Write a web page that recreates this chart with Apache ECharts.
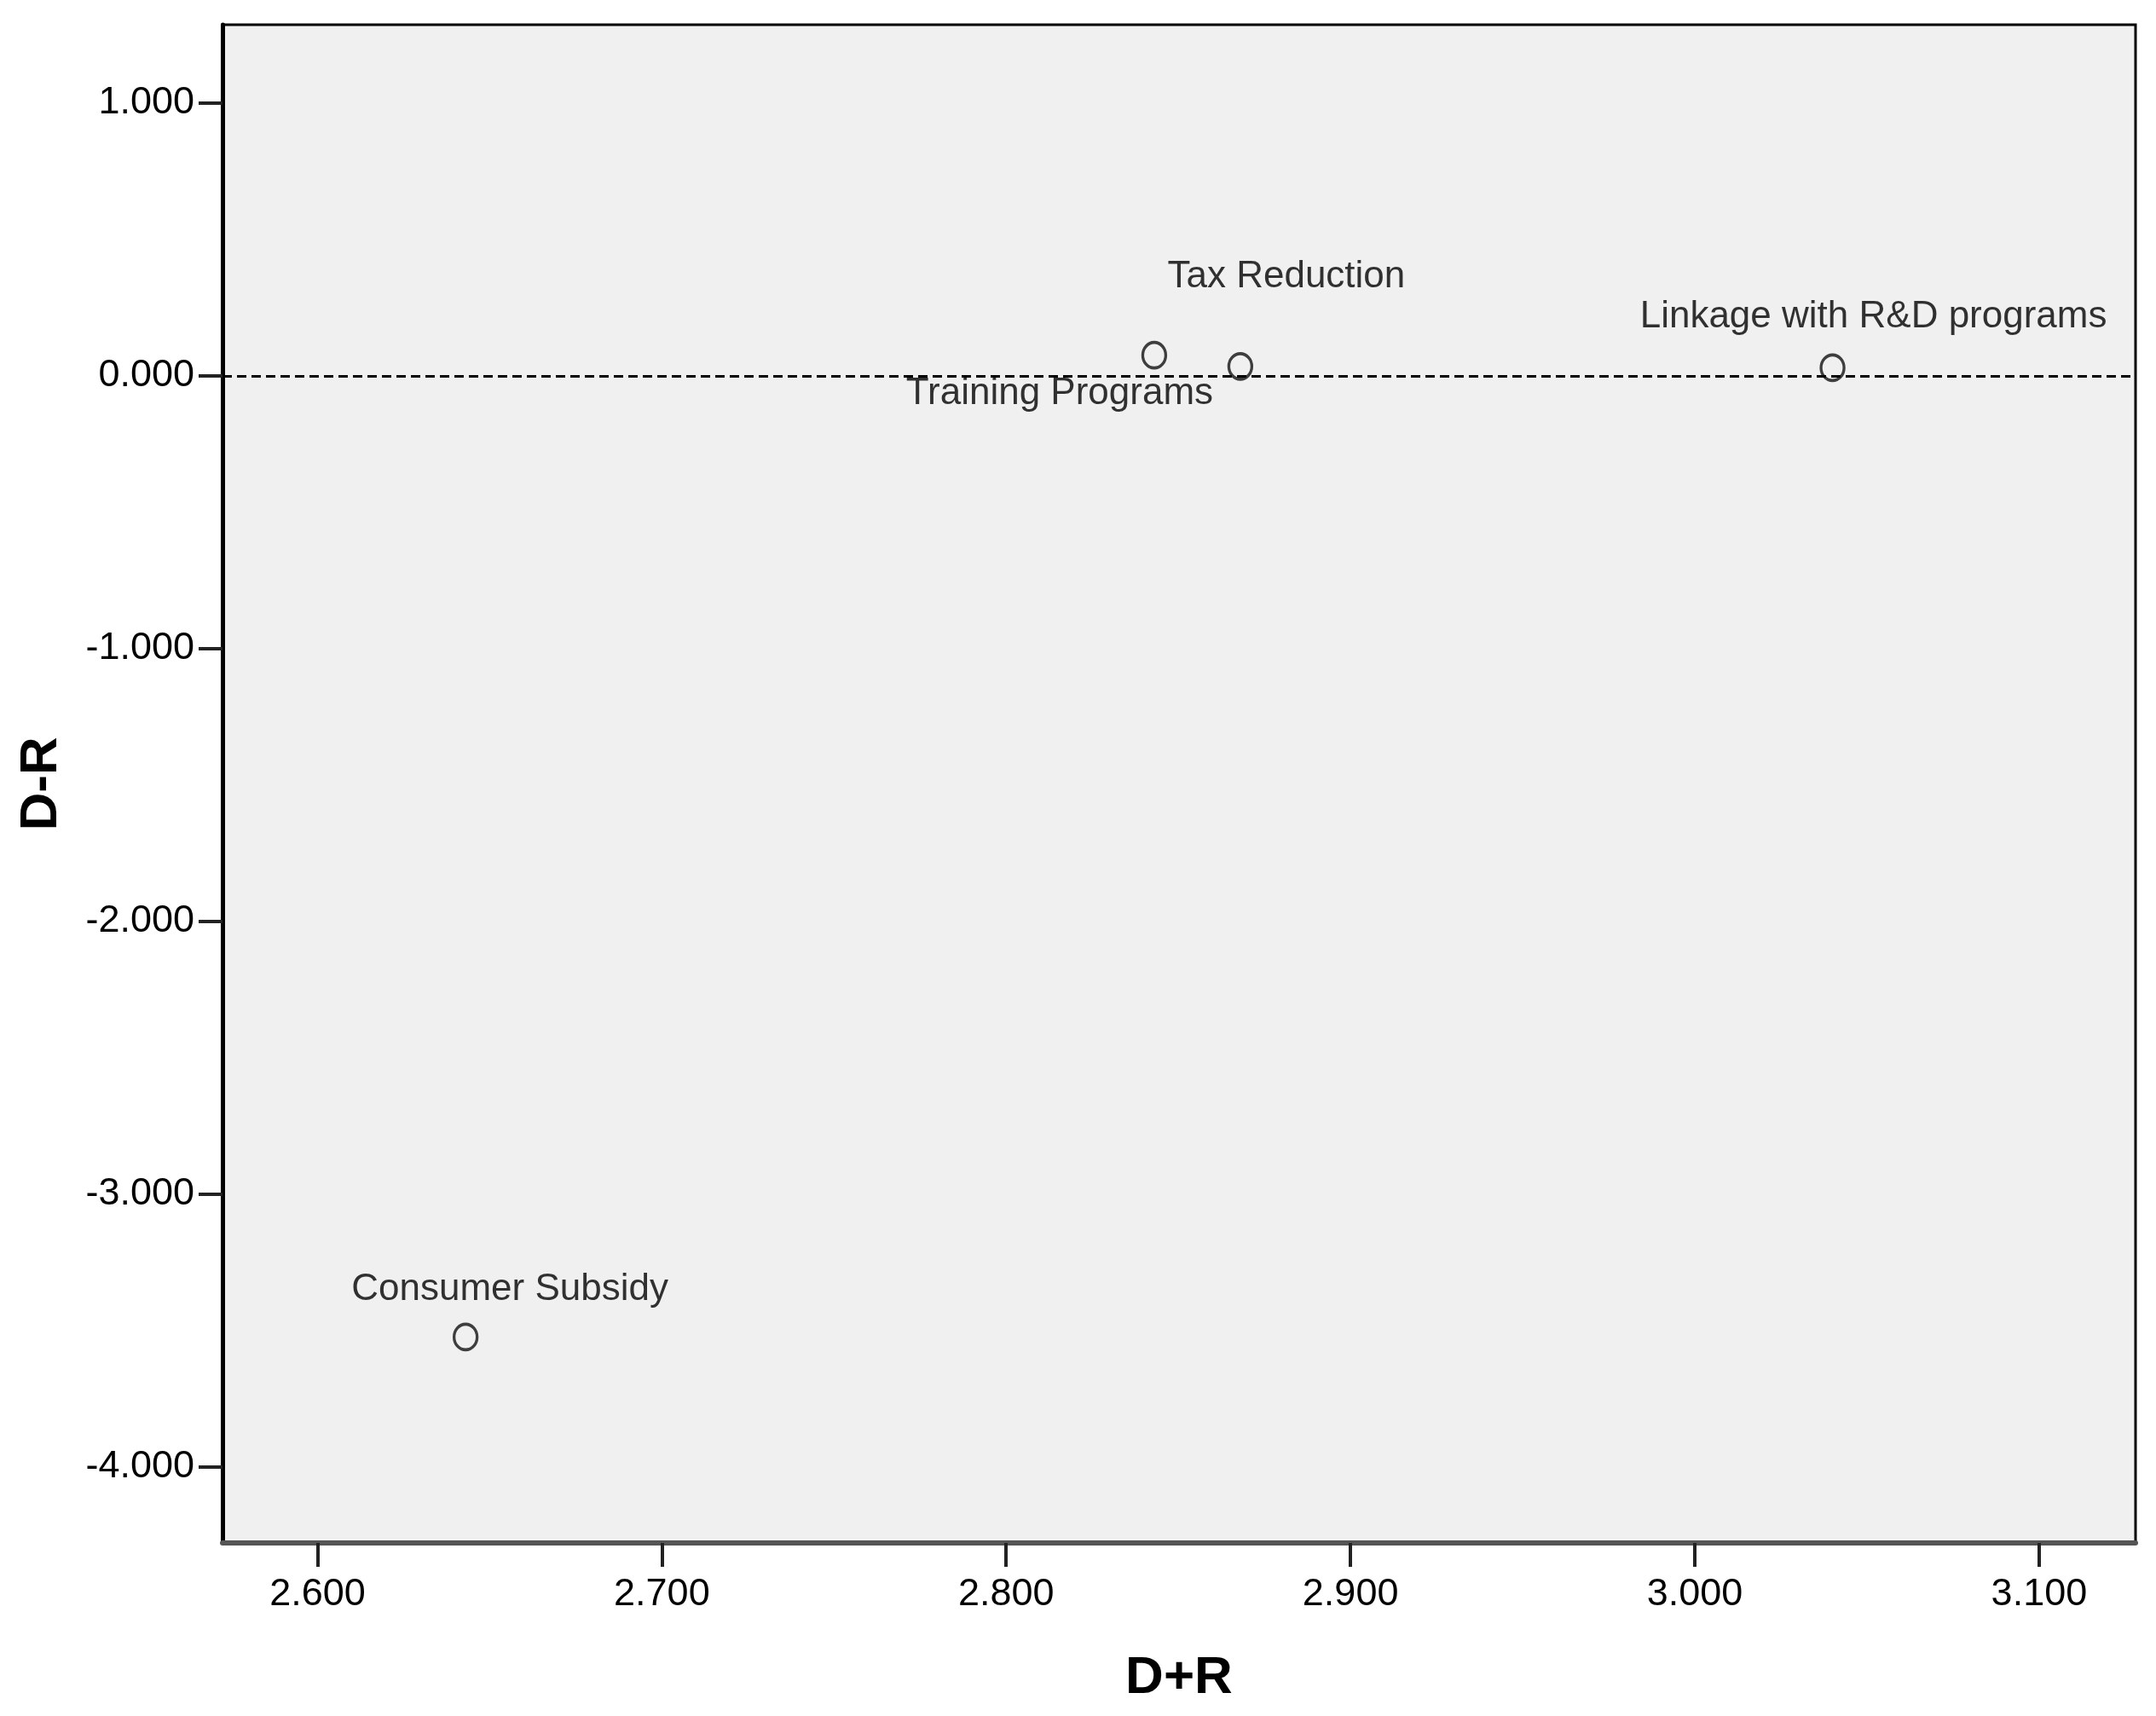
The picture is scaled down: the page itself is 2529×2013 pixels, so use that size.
<!DOCTYPE html>
<html>
<head>
<meta charset="utf-8">
<script src="https://cdn.jsdelivr.net/npm/echarts@6/dist/echarts.min.js"></script>
<style>
    html, body { margin: 0; padding: 0; background: #ffffff; }
    #chart { width: 2529px; height: 2013px; }
</style>
</head>
<body>
<div id="chart"></div>
<script>
// values
const pointNames = ["Consumer Subsidy", "Training Programs", "Tax Reduction", "Linkage with R&D programs"];
const dPlusR = [2.643, 2.843, 2.868, 3.040];
const dMinusR = [-3.523, 0.076, 0.035, 0.030];
const xTicks = [2.6, 2.7, 2.8, 2.9, 3.0, 3.1];
const yTicks = [-4, -3, -2, -1, 0, 1];

// where each label sits relative to its marker (px)
const labelOffsets = [[52, -56], [-111, 45], [54, -105], [48, -60]];

const font = "Liberation Sans, Arial, sans-serif";

const chart = echarts.init(document.getElementById("chart"), null, { renderer: "canvas" });
chart.setOption({
    backgroundColor: "#ffffff",
    animation: false,
    grid: {
        left: 261,
        top: 29,
        right: 24,
        bottom: 203,
        show: true,
        backgroundColor: "#f0f0f0",
        borderColor: "#000000",
        borderWidth: 3,
        outerBoundsMode: "none",
    },
    xAxis: {
        type: "value",
        min: 2.5724,
        max: 3.128,
        name: "D+R",
        nameLocation: "middle",
        nameGap: 128,
        nameTextStyle: { fontFamily: font, fontWeight: "bold", fontSize: 62, color: "#000" },
        axisLine: { show: true, onZero: false, lineStyle: { color: "#555555", width: 6 } },
        axisTick: { show: true, length: 28, customValues: xTicks, lineStyle: { color: "#222222", width: 4 } },
        axisLabel: {
            customValues: xTicks,
            margin: 38,
            fontFamily: font,
            fontSize: 45,
            color: "#000",
            formatter: v => v.toFixed(3),
        },
        splitLine: { show: false },
    },
    yAxis: {
        type: "value",
        min: -4.278,
        max: 1.2875,
        name: "D-R",
        nameLocation: "middle",
        nameGap: 181,
        nameTextStyle: { fontFamily: font, fontWeight: "bold", fontSize: 62, color: "#000" },
        axisLine: { show: true, onZero: false, lineStyle: { color: "#000000", width: 5 } },
        axisTick: { show: true, length: 28, customValues: yTicks, lineStyle: { color: "#222222", width: 4 } },
        axisLabel: {
            customValues: yTicks,
            margin: 33,
            fontFamily: font,
            fontSize: 45,
            color: "#000",
            formatter: v => v.toFixed(3),
        },
        splitLine: { show: false },
    },
    series: [
        {
            name: "D-R vs D+R",
            type: "scatter",
            symbol: "circle",
            symbolSize: [27, 30],
            itemStyle: { color: "rgba(0,0,0,0)", borderColor: "#111111", borderWidth: 3.5 },
            label: {
                show: true,
                position: "inside",
                fontFamily: font,
                fontSize: 44,
                color: "#000",
                textBorderWidth: 0,
                formatter: p => p.name,
            },
            data: pointNames.map((name, i) => ({
                name: name,
                value: [dPlusR[i], dMinusR[i]],
                label: { offset: labelOffsets[i] },
            })),
            markLine: {
                silent: true,
                symbol: "none",
                label: { show: false },
                lineStyle: { color: "#000000", width: 3, type: [11, 6] },
                data: [{ yAxis: 0 }],
            },
        },
    ],
});
</script>
</body>
</html>
